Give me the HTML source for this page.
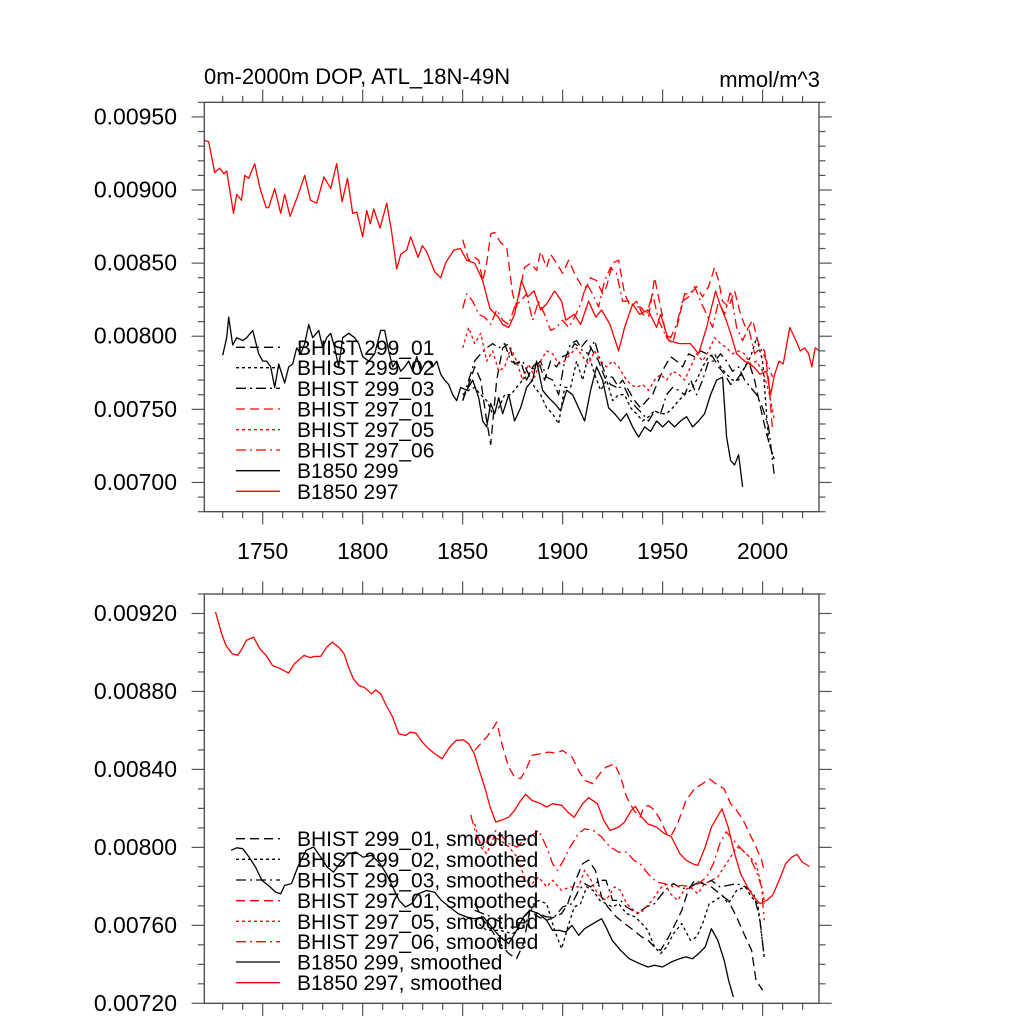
<!DOCTYPE html>
<html><head><meta charset="utf-8"><style>
html,body{margin:0;padding:0;background:#fff;}
svg{display:block;font-family:"Liberation Sans",Arial,sans-serif;}
</style></head><body>
<svg id="c" width="1024" height="1024" viewBox="0 0 1024 1024"></svg>
<script>
// values in units of 1e-5 mmol/m^3
const UNIT = 1e-5;
// ---- top panel (annual) ----
const topB297Years=[1720.6,1723,1726,1728.5,1730.6,1732,1735.4,1737,1739.4,1741,1743,1746,1748.5,1751.7,1753,1756,1759,1761,1763.7,1767.5,1771,1773.9,1777,1780.6,1784,1787,1789.7,1792.4,1795,1797,1800,1802,1803.8,1805.5,1808.7,1812,1814.4,1817,1819,1822,1824,1827.7,1829.8,1831.9,1836,1839,1841.4,1845.6,1848.8,1852,1856,1860,1863.6,1867.8,1870,1873,1876,1879.4,1882.6,1885.7,1889,1892,1896,1899.5,1901.6,1905.8,1909,1913,1916.6,1919.5,1923.7,1928,1931,1935,1938.5,1942.7,1947,1949,1953,1958.6,1963.9,1968,1972,1976.5,1978.6,1981.8,1984,1987,1991,1995.6,1998.7,2002,2004,2006,2008.3,2010.3,2013.6,2016.7,2018.8,2021,2023,2024.6,2026.3,2028.4];
const topB297Vals=[934,933,912,915,911,913,884,897,893,910,908,918,902,888,888,901,884,897,882,896,910,893,891,909,901,918,892,908,884,885,868,886,877,887,874,891,872,846,856,859,868,854,862,858,844,840,850,859,860,852,850,838,819,813,808,806,815,838,827,831,818,822,831,824,811,815,808,824,813,818,808,790,806,822,815,818,806,815,797,795,795,788,806,831,822,811,802,788,783,779,774,776,760,774,783,781,806,797,790,792,788,779,792,790];
const topB299Years=[1730,1732,1733,1735,1737,1740,1742,1745,1748,1750,1752,1754,1756,1758,1761,1763,1765,1767,1769,1771,1773,1775,1778,1780,1782,1784,1786,1788,1790,1793,1796,1798,1800,1803,1806,1809,1811,1813,1815,1817,1819,1821,1823,1825,1827,1829,1831,1833,1835,1837,1839,1841,1843,1845,1847,1849,1852,1855,1858,1860,1862,1864,1866,1868,1870,1873,1876,1879,1882,1885,1887,1890,1893,1896,1899,1902,1905,1908,1911,1914,1917,1920,1923,1926,1929,1932,1935,1938,1941,1944,1947,1950,1953,1956,1959,1962,1965,1968,1971,1974,1977,1980,1982,1984,1986,1988,1990];
const topB299Vals=[787,799,813,794,799,797,799,804,788,783,783,779,765,781,768,779,781,792,788,795,808,799,804,792,799,802,792,779,799,802,799,795,786,783,788,804,804,790,779,783,776,779,783,776,786,776,781,783,779,783,774,770,767,760,756,765,763,770,758,742,738,754,747,758,747,760,742,751,765,770,783,763,758,754,749,763,760,751,742,763,779,770,751,747,742,747,738,731,738,735,742,738,742,738,742,745,738,742,747,760,770,772,731,715,712,719,697];
const histYearsA=[1850,1853,1856,1858,1860,1862,1864,1866,1869,1872,1875,1877,1879,1881,1884,1887,1889,1892,1894,1897,1900,1903,1906,1908,1911,1914,1917,1920,1922,1925,1928,1931,1934,1937,1940,1943,1946,1949,1952,1955,1958,1961,1964,1967,1970,1973,1976,1978,1980,1983,1986,1989,1992,1995,1998,2001,2003,2005];
const topH297_01=[866,852,854,852,838,850,870,871,864,861,829,820,834,847,850,845,858,847,856,850,843,852,843,838,831,840,838,829,834,850,852,829,820,824,815,813,840,820,799,795,811,829,829,834,827,834,847,838,824,820,831,815,804,811,795,790,770,735];
const histYearsB=[1850,1852,1855,1858,1861,1864,1867,1870,1873,1876,1879,1882,1885,1888,1891,1894,1897,1900,1903,1906,1909,1912,1915,1918,1921,1924,1927,1930,1933,1936,1939,1942,1945,1948,1951,1954,1957,1960,1963,1966,1969,1972,1975,1978,1981,1984,1987,1990,1993,1996,1999,2002,2005];
const topH297_06=[819,829,824,815,813,808,818,811,808,820,824,829,811,824,815,804,806,811,806,813,822,836,829,820,838,847,843,824,824,820,820,815,829,811,802,799,808,824,827,834,824,815,806,824,815,831,806,797,806,788,792,783,772];
const histYearsC=[1850,1853,1856,1859,1862,1865,1868,1871,1874,1877,1880,1883,1886,1889,1892,1895,1898,1901,1904,1907,1910,1913,1916,1919,1922,1925,1928,1931,1934,1937,1940,1943,1946,1949,1952,1955,1958,1961,1964,1967,1970,1973,1976,1979,1982,1985,1988,1991,1994,1997,2000,2003,2006];
const topH297_05=[792,806,795,802,783,790,776,779,792,783,770,781,772,783,790,788,781,783,788,792,786,781,790,783,779,783,779,772,767,765,767,763,770,774,770,776,774,770,779,788,783,790,799,795,792,788,790,788,781,783,776,763,742];
const histYearsD=[1850,1853,1856,1859,1862,1864,1867,1870,1873,1876,1879,1882,1885,1888,1891,1894,1897,1900,1903,1906,1909,1912,1915,1918,1921,1924,1927,1930,1933,1936,1939,1942,1945,1948,1951,1954,1957,1960,1963,1966,1969,1972,1975,1978,1981,1984,1987,1990,1993,1996,1999,2002,2005];
const topH299_01=[756,767,779,770,742,726,770,792,795,781,783,770,779,783,770,783,779,786,788,795,792,797,790,783,772,767,765,770,763,756,751,756,760,770,779,786,783,779,788,786,790,788,786,779,774,767,770,776,783,770,751,733,719];
const topH299_02=[760,763,765,760,756,747,751,760,760,765,770,774,765,760,751,747,740,765,765,783,770,788,774,763,770,756,760,760,751,747,742,745,749,747,747,751,756,760,763,770,779,786,788,779,774,770,770,779,786,799,783,728,715];
const topH299_03=[756,770,783,788,792,795,792,795,783,781,783,774,779,783,772,770,760,783,795,797,790,788,797,783,772,772,765,765,756,751,747,742,749,747,760,765,763,760,770,760,770,783,783,788,783,776,779,770,765,760,751,738,703];
// ---- bottom panel (smoothed) ----
const botB297Years=[1726.4,1729.5,1731.6,1734.8,1737.5,1739.7,1741.8,1745.4,1748.5,1751.7,1754.9,1759,1762.9,1765.8,1770.7,1773.8,1776,1779,1782,1784.8,1788,1790.7,1792.9,1795.3,1798,1801,1804.4,1806.5,1809,1811.8,1815,1818,1821.5,1823.7,1826.6,1829.8,1833,1836,1839.7,1843.5,1846.7,1850.3,1853,1855.8,1858.3,1861,1863.7,1866.5,1870,1873,1876,1879,1881.5,1884.7,1889,1892,1895,1899.5,1902.6,1905.8,1910,1913,1917.4,1920.6,1923.7,1928,1931,1934.3,1936.4,1939.6,1942.7,1947,1951,1954.3,1958.6,1961.7,1964.9,1967.6,1971.3,1974.4,1979.7,1982.8,1986,1989,1992.4,1995.6,1998.8,2002,2005,2008.3,2011.5,2014.6,2017.2,2019.8,2023.4];
const botB297Vals=[920.7,909.6,903.6,899.3,898.5,902,906.2,907.9,902,898.5,893.3,891.6,889.4,894.2,898.5,897.3,898,898,902.7,905.3,902.7,899.3,892.5,886.5,883.1,881.9,878.8,880.8,878.8,872.8,866.8,858.3,857.4,859.1,858.6,854,850.6,848.1,845.5,851.5,854.9,855.2,853.2,848,839.5,831,820.7,813,814.2,815.5,819,824,827.2,824.1,822.4,820.7,822.4,821.6,818.1,815.5,822.4,825.5,822.4,813.8,808.7,810.4,813,819,821,815.5,812,810.4,807,805.6,796.8,793.4,791.6,790.7,800.2,810.4,819.8,810.4,796.8,786.5,779.7,774.5,771.1,772.8,775.4,783.1,791.6,795,796.4,792.5,790.2];
const botB299Years=[1734.2,1737,1740,1743.2,1746.4,1749.6,1752.8,1756.5,1759,1761,1764.4,1767.5,1771.7,1775.5,1779,1782.3,1785.4,1788.6,1792.9,1796.6,1800.2,1804.5,1808.7,1811.8,1815,1818.2,1821.4,1824.5,1827.7,1832,1836,1839.3,1843.5,1847.7,1852,1856,1860.4,1864.5,1868.7,1873,1877,1880.4,1883.6,1888,1892,1895,1898.4,1901.6,1904.7,1908,1911,1915.3,1919.5,1921.7,1924.8,1929,1933.3,1938.6,1942.7,1946,1950,1954.3,1958.5,1961.7,1964.9,1968,1971.3,1974.4,1977.6,1980.8,1983,1985.4];
const botB299Vals=[798.5,799.8,799.3,795,789.9,783.1,780.5,777,776.2,780.5,781.4,789.9,798.5,800.2,795,789.9,787.3,791.6,796.8,797.6,795,795.9,791.6,786.5,779.7,772.8,769.4,771.1,776.2,777.9,777,772.8,769.4,766,764.3,763.4,764.3,759.1,754,750.6,757.4,764.3,767.7,766,762.6,757.4,757.4,756.6,760,754.9,758.3,760.9,763.4,759.1,752.3,747.2,742.9,740.3,738.6,739.5,738.6,741.2,742.9,743.8,742.9,745.5,748.9,758.3,752.3,742,731.8,723.2];
const botH297_01Years=[1856,1859,1862,1865.6,1867,1870,1873,1876,1879,1881.5,1884.7,1889,1893,1897,1900,1904.7,1908,1911,1915,1918.6,1921.7,1926,1929,1932,1935.6,1938.7,1940.6,1943,1946,1949,1952,1954.3,1957.5,1961.7,1966,1970,1973.3,1976.5,1980.7,1984,1987,1990.4,1993.5,1996.7,1999.5,2000.8];
const botH297_01=[849.7,853.2,856.6,861.8,864.3,851.5,841.2,836.1,835.3,839.5,847.2,848.1,848.9,848.4,849.7,846.3,839.5,834.4,832.7,837.8,841.2,842.9,836.1,825.8,819,815.5,820.7,821.5,819,813.8,807,806.1,812.1,824.1,830.1,832.7,835.3,832.7,830.1,822.4,819,813.8,807,800.2,793.4,788.2];
const botH297_06Years=[1854,1857,1860.4,1863.7,1866.7,1870,1873,1877.3,1880.4,1883.6,1888,1892,1895,1897.4,1900.5,1903.7,1907.9,1911,1915.3,1919.5,1923.7,1928,1932,1935.6,1938.7,1942.7,1947,1951,1955.4,1959.6,1963.9,1968,1972,1975.4,1978.6,1981.8,1984,1987,1990,1993.5,1996.7,1999.5,2000.8];
const botH297_06=[816.7,805.3,800.2,805.3,808.7,805.3,801.9,800.2,803.6,805.3,808.7,800.2,791.6,788.2,793.4,800.2,807,809.5,808.7,805.3,800.2,797.6,797.6,793.4,791.6,786.5,782.2,781.4,779.7,780.5,779.7,781.4,784.8,791.6,801.9,808,805.3,801.9,798.5,795,788.2,779.7,762.6];
const botH297_05Years=[1856,1859,1862,1865.6,1869,1873,1877.3,1881.5,1884.7,1888,1892,1895,1899.5,1903.7,1908,1911,1914.3,1917.4,1921.7,1926,1929,1932,1935.6,1938.7,1941.7,1944.8,1948,1951,1954,1957.5,1960.7,1963.9,1967.6,1971,1974.4,1977.6,1980.7,1984,1987,1990,1993.5,1996.7,2000,2001];
const botH297_05=[812.1,800.2,796.8,805.3,803.6,800.2,795,783.1,781.4,784.8,779.7,783.1,777.9,779.7,779.7,788.2,783.1,776.2,772.8,779.7,777.9,771.1,767.7,766,769.4,772.8,777.9,781.4,776.2,772.8,777.9,779.7,776.2,781.4,783.1,784.8,789.9,795,800.2,798.5,795,791.6,777.9,771.1];
const botH299_01Years=[1856,1860.4,1864.5,1868.7,1873,1877,1880.4,1883.6,1888,1892,1896,1899.5,1902.6,1905.8,1910,1913,1916.4,1919.5,1922.6,1926.9,1931,1935.6,1939.6,1942.7,1946,1949,1953,1956.4,1959.6,1962.8,1966,1970,1974.4,1978.6,1982.8,1987,1991.4,1994.5,1996.7,2000];
const botH299_01=[771.1,762.6,757.4,750.6,745.5,742.9,750.6,767.7,764.3,762.6,764.3,766,771.1,781.4,791.6,793.4,788.2,774.5,769.4,764.3,760.9,757.4,754,752.3,748.9,747.2,754,760.9,767.7,777.9,783.1,781.4,779.7,776.2,772.8,764.3,754,747.2,731.8,726.7];
const botH299_02Years=[1856,1862,1868.7,1875,1881.5,1885.7,1888,1892,1896,1899.5,1902.6,1905.8,1909,1912,1915.3,1918.6,1921.7,1925,1928,1932,1936.4,1939.6,1942.7,1946,1949,1952,1955.4,1959.6,1963.9,1967,1970,1973.3,1976.5,1979.7,1982.8,1987,1991.4,1994.5,1997.6,2000.8];
const botH299_02=[762.6,757.4,757.4,755.7,760.9,771.1,772.8,771.1,757.4,748,759.1,769.4,771.1,779.7,777.9,772.8,771.1,769.4,771.1,766,764.3,760.9,757.4,748.9,745.5,748.9,755.7,760.9,752.3,754,760.9,771.1,772.8,775.4,771.1,777.9,779.7,774.5,771.1,743.8];
const botH299_03Years=[1856,1864.5,1873,1877,1883.6,1888,1892,1896,1900,1904.7,1908,1911,1914,1918.6,1921.7,1925,1929,1932,1937.5,1941.7,1946,1951,1955.4,1959.6,1963.9,1968,1971.3,1974.4,1978.6,1982.8,1987,1991.4,1995.6,1998.7,2000.8];
const botH299_03=[767.7,764.3,759.1,759.1,767.7,766,764.3,764.3,769.4,771.1,777.9,781.4,779.7,783.1,783.1,772.8,772.8,769.4,766,769.4,771.1,777.9,781.4,778.8,779.7,782.2,781.4,783.1,779.7,780.5,781.4,779.7,776.2,762.6,743.8];
// ticks
const xTickYears=[1750,1800,1850,1900,1950,2000];
const topYTicks=[0.0070,0.0075,0.0080,0.0085,0.0090,0.0095];
const botYTicks=[0.0072,0.0076,0.0080,0.0084,0.0088,0.0092];
const topLegendLabels=["BHIST 299_01","BHIST 299_02","BHIST 299_03","BHIST 297_01","BHIST 297_05","BHIST 297_06","B1850 299","B1850 297"];
const botLegendLabels=topLegendLabels.map(s=>s+", smoothed");

const NS="http://www.w3.org/2000/svg";
const svg=document.getElementById('c');
function mk(tag,attrs,parent){const e=document.createElementNS(NS,tag);for(const k in attrs)e.setAttribute(k,attrs[k]);(parent||svg).appendChild(e);return e;}

const X0=204.3,X1=819,YR0=1720.8,YR1=2028.2;
const xs=yr=>X0+(yr-YR0)*(X1-X0)/(YR1-YR0);
const panels=[
 {id:'top',yTop:102.3,yBot:511.7,vTop:0.0096,vBot:0.0068,major:topYTicks,minorStep:0.0001,showX:true},
 {id:'bottom',yTop:594,yBot:1003.3,vTop:0.0093,vBot:0.0072,major:botYTicks,minorStep:0.0001,showX:false}
];
const styles=[
 {c:'#000',d:'9,5'},{c:'#000',d:'3,3'},{c:'#000',d:'10,4,2,4'},
 {c:'#ff0000',d:'9,5'},{c:'#ff0000',d:'3,3'},{c:'#ff0000',d:'10,4,2,4'},
 {c:'#000',d:''},{c:'#ff0000',d:''}
];
const topSeries=[[histYearsD,topH299_01],[histYearsC,topH299_02],[histYearsC,topH299_03],[histYearsA,topH297_01],[histYearsC,topH297_05],[histYearsB,topH297_06],[topB299Years,topB299Vals],[topB297Years,topB297Vals]];
const botSeries=[[botH299_01Years,botH299_01],[botH299_02Years,botH299_02],[botH299_03Years,botH299_03],[botH297_01Years,botH297_01],[botH297_05Years,botH297_05],[botH297_06Years,botH297_06],[botB299Years,botB299Vals],[botB297Years,botB297Vals]];
const seriesNames=['bhist-299-01','bhist-299-02','bhist-299-03','bhist-297-01','bhist-297-05','bhist-297-06','b1850-299','b1850-297'];

panels.forEach((p,pi)=>{
  const ys=v=>p.yTop+(p.vTop-v)*(p.yBot-p.yTop)/(p.vTop-p.vBot);
  const g=mk('g',{});
  
  
  const clip=mk('clipPath',{id:'clip'+pi},g);
  mk('rect',{x:X0,y:p.yTop,width:X1-X0,height:p.yBot-p.yTop},clip);
  const tg=mk('g',{stroke:'#555','stroke-width':1.2},g);
  
  
  for(let yr=1730;yr<=2020;yr+=10){
    const x=xs(yr),L=(yr%50===0)?12.7:6.5;
    mk('line',{x1:x,x2:x,y1:p.yTop,y2:p.yTop-L},tg);
    mk('line',{x1:x,x2:x,y1:p.yBot,y2:p.yBot+L},tg);
  }
  const nMin=Math.round((p.vTop-p.vBot)/p.minorStep);
  for(let i=0;i<=nMin;i++){
    const v=p.vBot+i*p.minorStep;const y=ys(v);
    const isMaj=p.major.some(m=>Math.abs(m-v)<1e-9);
    const L=isMaj?12.7:6.5;
    mk('line',{x1:X0,x2:X0-L,y1:y,y2:y},tg);
    mk('line',{x1:X1,x2:X1+L,y1:y,y2:y},tg);
  }
  p.major.forEach(v=>{
    const t=mk('text',{x:177,y:ys(v)+7.5,'text-anchor':'end','font-size':23,fill:'#000'},g);
    
    
    t.textContent=v.toFixed(5);
  });
  if(p.showX){
    xTickYears.forEach(yr=>{
      const t=mk('text',{x:xs(yr),y:559,'text-anchor':'middle','font-size':23,fill:'#000'},g);
      
      
      t.textContent=yr;
    });
  }
  const sg=mk('g',{'clip-path':'url(#clip'+pi+')',fill:'none','stroke-width':1.3,'stroke-linejoin':'round'},g);
  const ser=pi===0?topSeries:botSeries;
  ser.forEach((s,si)=>{
    const yrs=s[0],vals=s[1];const n=Math.min(yrs.length,vals.length);
    let d='';
    for(let i=0;i<n;i++)d+=(i?'L':'M')+xs(yrs[i]).toFixed(1)+','+ys(vals[i]*UNIT).toFixed(1);
    const path=mk('path',{d:d,stroke:styles[si].c},sg);
    if(styles[si].d)path.setAttribute('stroke-dasharray',styles[si].d);
    
    
  });
  const fr=mk('rect',{x:X0,y:p.yTop,width:X1-X0,height:p.yBot-p.yTop,fill:'none',stroke:'#444','stroke-width':1.3},g);
  
  
  const lg=mk('g',{},g);
  
  
  const rows=pi===0?[347.3,367.7,388.3,409,429.7,450,470.7,491.3]:[838.7,859.3,880,900.7,921.3,941.7,962,982.7];
  const labels=pi===0?topLegendLabels:botLegendLabels;
  labels.forEach((lab,i)=>{
    const e=mk('g',{},lg);
    
    
    const ln=mk('line',{x1:236,x2:280,y1:rows[i],y2:rows[i],stroke:styles[i].c,'stroke-width':1.3},e);
    if(styles[i].d)ln.setAttribute('stroke-dasharray',styles[i].d);
    const t=mk('text',{x:297,y:rows[i]+7.5,'font-size':21,fill:'#000'},e);
    t.textContent=lab;
  });
});
const title=mk('text',{x:204,y:84,'font-size':22,fill:'#000'});


title.textContent='0m-2000m DOP, ATL_18N-49N';
const units=mk('text',{x:820,y:87,'font-size':22,fill:'#000','text-anchor':'end'});


units.textContent='mmol/m^3';
</script>
</body></html>
